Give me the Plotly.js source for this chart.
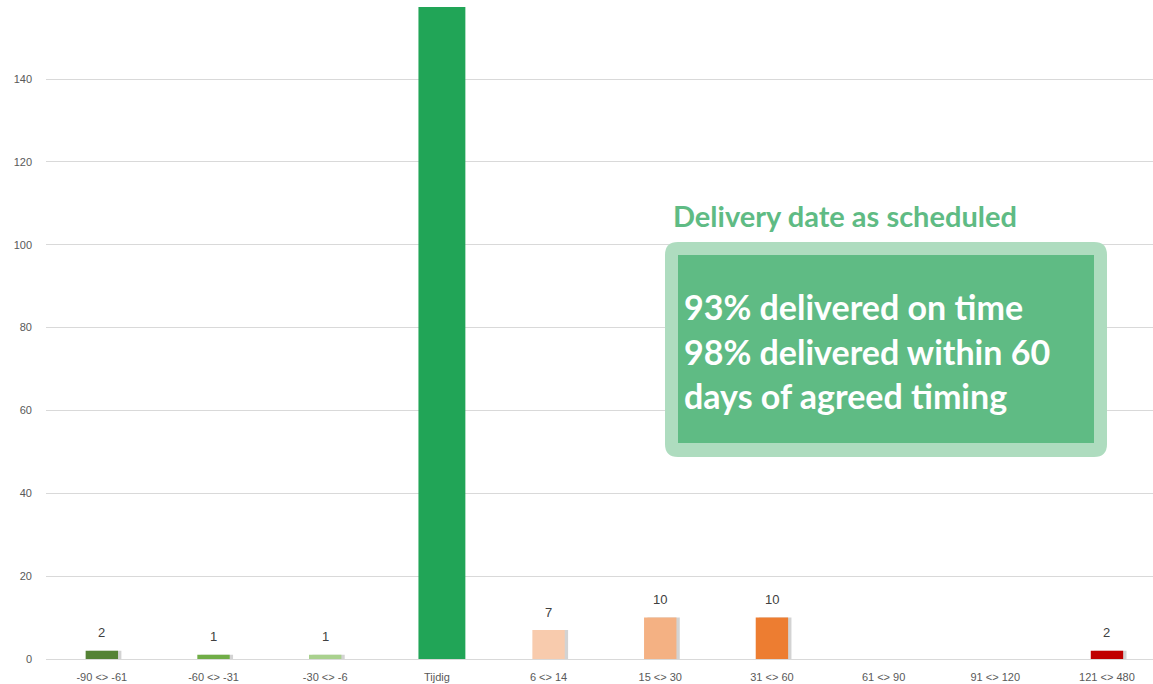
<!DOCTYPE html>
<html>
<head>
<meta charset="utf-8">
<script src="https://cdn.plot.ly/plotly-3.0.1.min.js"></script>
<style>html,body{margin:0;padding:0;background:#fff;}#chart{width:1153px;height:684px;}</style>
</head>
<body>
<div id="chart"></div>
<script>
// Data
const categories = ["-90 <> -61", "-60 <> -31", "-30 <> -6", "Tijdig", "6 <> 14", "15 <> 30", "31 <> 60", "61 <> 90", "91 <> 120", "121 <> 480"];
const counts = [2, 1, 1, 440, 7, 10, 10, 0, 0, 2];
const showLabel = [true, true, true, false, true, true, true, false, false, true];
const barColors = ["#548235", "#70ad47", "#a9d18e", "#21a557", "#f8cbad", "#f4b183", "#ed7d31", "#ed7d31", "#c00000", "#c00000"];
const yTicks = [0, 20, 40, 60, 80, 100, 120, 140];
const calloutTitle = "Delivery date as scheduled";
const calloutLines = ["93% delivered on time", "98% delivered within 60", "days of agreed timing"];

const isMain = categories.map(c => c === "Tijdig");
const widths = isMain.map(m => m ? 0.42 : 0.29);
const offsets = isMain.map(m => m ? -0.165 : -0.145);

const shadow = {
  type: 'bar', x: categories, y: counts.map((v, i) => isMain[i] ? 0 : v),
  width: widths, offset: offsets.map(o => o + 0.03),
  marker: {color: 'rgba(110,110,110,0.3)', line: {width: 0}},
  hoverinfo: 'skip', showlegend: false
};
const bars = {
  type: 'bar', x: categories, y: counts,
  width: widths, offset: offsets,
  marker: {color: barColors, line: {width: 0}},
  showlegend: false
};

const annotations = [];
categories.forEach((c, i) => {
  if (showLabel[i]) {
    annotations.push({x: c, y: counts[i], xref: 'x', yref: 'y', text: String(counts[i]),
      showarrow: false, yshift: 18, font: {family: 'Liberation Sans, Arial, sans-serif', size: 13, color: '#404040'}});
  }
});

// Callout (paper coords from plot area)
const L = 46, R = 1153, T = 7, B = 659;
const px = v => (v - L) / (R - L);
const py = v => (B - v) / (B - T);

function roundRect(x0, y0, x1, y1, r) {
  const X0 = px(x0), X1 = px(x1), Y0 = py(y1), Y1 = py(y0);
  const rx = r / (R - L), ry = r / (B - T);
  return `M ${X0 + rx},${Y1} L ${X1 - rx},${Y1} Q ${X1},${Y1} ${X1},${Y1 - ry} L ${X1},${Y0 + ry} Q ${X1},${Y0} ${X1 - rx},${Y0} L ${X0 + rx},${Y0} Q ${X0},${Y0} ${X0},${Y0 + ry} L ${X0},${Y1 - ry} Q ${X0},${Y1} ${X0 + rx},${Y1} Z`;
}

const shapes = [
  {type: 'path', xref: 'paper', yref: 'paper', path: roundRect(665, 242, 1107, 457, 13),
   fillcolor: '#aedcbf', line: {width: 0}, layer: 'above'},
  {type: 'rect', xref: 'paper', yref: 'paper', x0: px(678), x1: px(1094), y0: py(443), y1: py(255),
   fillcolor: '#5fbb84', line: {width: 0}, layer: 'above'}
];

annotations.push({xref: 'paper', yref: 'paper', x: px(671), y: py(215), xanchor: 'left', yanchor: 'middle',
  text: '<b>' + calloutTitle + '</b>', showarrow: false,
  font: {family: 'Lato, Open Sans, sans-serif', size: 29, color: '#5fbb84'}});
const lineY = [306, 351, 395];
calloutLines.forEach((t, i) => {
  annotations.push({xref: 'paper', yref: 'paper', x: px(682), y: py(lineY[i]), xanchor: 'left', yanchor: 'middle',
    text: '<b>' + t + '</b>', showarrow: false,
    font: {family: 'Lato, Open Sans, sans-serif', size: 34, color: '#ffffff'}});
});

const layout = {
  width: 1153, height: 684,
  margin: {l: L, r: 0, t: T, b: 684 - B},
  paper_bgcolor: '#ffffff', plot_bgcolor: '#ffffff',
  barmode: 'overlay',
  xaxis: {type: 'category', range: [-0.5, 9.5 - (1162.8 - 1153) / 111.67], showgrid: false, zeroline: false,
    showline: false, ticks: '', ticklabelstandoff: 10,
    tickfont: {family: 'Liberation Sans, Arial, sans-serif', size: 11, color: '#595959'}},
  yaxis: {range: [0, 157.4], tickvals: yTicks, showgrid: true, gridcolor: '#d9d9d9', gridwidth: 1,
    zeroline: true, zerolinecolor: '#d9d9d9', showline: false, ticks: '', ticklabelstandoff: 13,
    tickfont: {family: 'Liberation Sans, Arial, sans-serif', size: 11, color: '#595959'}},
  shapes: shapes,
  annotations: annotations,
  font: {family: 'Liberation Sans, Arial, sans-serif', color: '#595959'}
};

Plotly.newPlot('chart', [shadow, bars], layout, {displayModeBar: false, staticPlot: true});
</script>
</body>
</html>
